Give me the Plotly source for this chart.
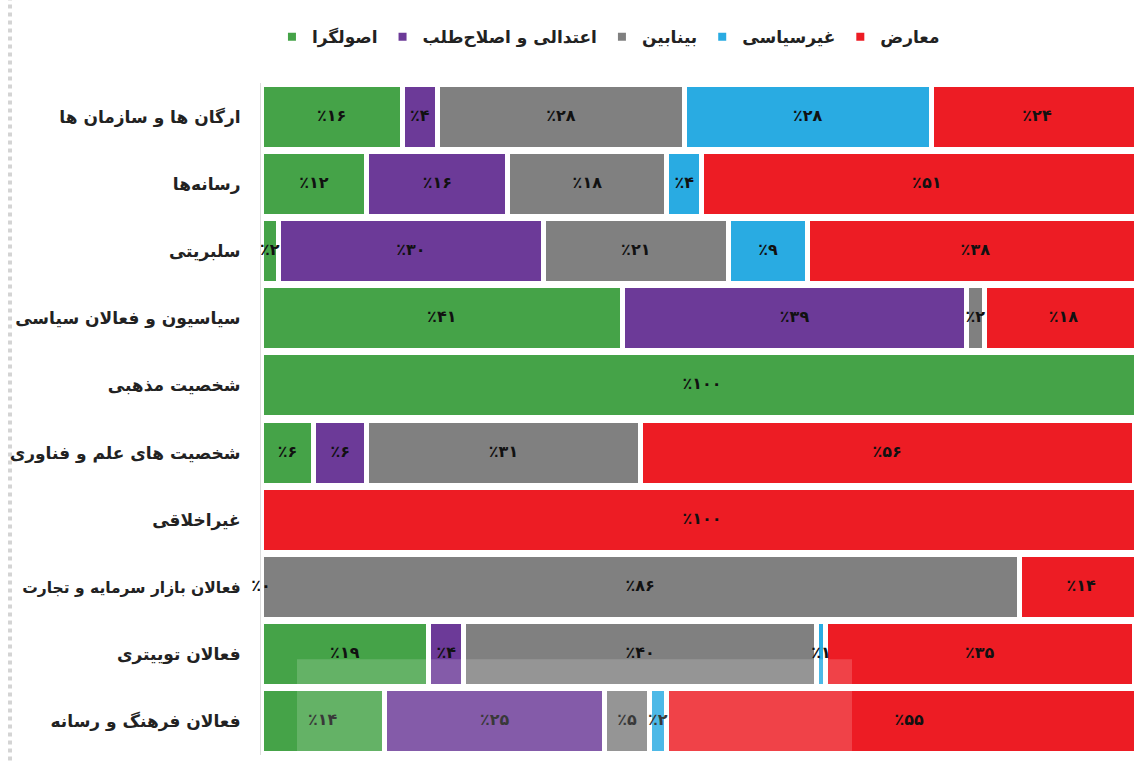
import plotly.graph_objects as go

categories = [
    "ارگان ها و سازمان ها",
    "رسانه‌ها",
    "سلبریتی",
    "سیاسیون و فعالان سیاسی",
    "شخصیت مذهبی",
    "شخصیت های علم و فناوری",
    "غیراخلاقی",
    "فعالان بازار سرمایه و تجارت",
    "فعالان توییتری",
    "فعالان فرهنگ و رسانه",
]

series_names = ["اصولگرا", "اعتدالی و اصلاح‌طلب", "بینابین", "غیرسیاسی", "معارض"]
osoolgara = [16, 12, 2, 41, 100, 6, None, 0, 19, 14]
eslahtalab = [4, 16, 30, 39, None, 6, None, None, 4, 25]
beinabein = [28, 18, 21, 2, None, 31, None, 86, 40, 5]
gheirsiasi = [28, 4, 9, None, None, None, None, None, 1, 2]
moarez = [24, 51, 38, 18, None, 56, 100, 14, 35, 55]

colors = ["#45A348", "#6C3A98", "#808080", "#29ABE2", "#ED1C24"]

series = [osoolgara, eslahtalab, beinabein, gheirsiasi, moarez]

FA = str.maketrans("0123456789", "۰۱۲۳۴۵۶۷۸۹")
def fa_label(v):
    return "٪" + str(v).translate(FA)

FONT = "DejaVu Sans"

# the longest category label is set slightly smaller so it fits like the original
tick_text = [
    ('<span style="font-size:15.5px">%s</span>' % c) if len(c) > 24 else c
    for c in categories
]

fig = go.Figure()

# bars
for name, vals, col in zip(series_names, series, colors):
    fig.add_trace(go.Bar(
        y=categories, x=[v if v is not None else 0 for v in vals],
        orientation="h", name=name, showlegend=False,
        marker=dict(color=col, line=dict(color="white", width=5)),
        hoverinfo="skip",
    ))

# labels at segment centres
lx, ly, lt = [], [], []
cum = [0] * len(categories)
for vals in series:
    for i, v in enumerate(vals):
        if v is None:
            continue
        lx.append(cum[i] + v / 2)
        ly.append(categories[i])
        lt.append(fa_label(v))
        cum[i] += v
fig.add_trace(go.Scatter(
    x=lx, y=ly, text=lt, mode="text", showlegend=False,
    textfont=dict(family=FONT, size=16, color="#111111", weight="bold"),
    cliponaxis=False, hoverinfo="skip",
))

# legend entries
for name, col in zip(series_names, colors):
    fig.add_trace(go.Scatter(
        x=[None], y=[None], mode="markers", name=name,
        marker=dict(symbol="square", size=8, color=col),
    ))

fig.update_layout(
    width=1134, height=762,
    margin=dict(l=261, r=0, t=83, b=7),
    paper_bgcolor="white", plot_bgcolor="white",
    barmode="stack", bargap=0.03,
    showlegend=True,
    legend=dict(orientation="h", x=0.398, xanchor="center", y=1.068, yanchor="middle",
                font=dict(family=FONT, size=17, color="#222222", weight="bold"),
                itemwidth=30, traceorder="normal"),
    xaxis=dict(range=[0, 99.0], visible=False, fixedrange=True),
    yaxis=dict(autorange="reversed", showgrid=False, zeroline=False,
               showline=True, linecolor="#dddddd", linewidth=1,
               tickmode="array", tickvals=categories, ticktext=tick_text,
               ticks="", ticklabelstandoff=16, fixedrange=True,
               tickfont=dict(family=FONT, size=17, color="#222222", weight="bold")),
    shapes=[
        dict(type="line", xref="paper", yref="paper", x0=-0.2875, x1=-0.2875,
             y0=-0.02, y1=1.13, line=dict(color="#d4d4d4", width=4, dash="dot")),
        dict(type="rect", xref="paper", yref="paper", x0=0.0412, x1=0.677,
             y0=-0.02, y1=0.1425, fillcolor="white", opacity=0.17,
             line=dict(width=0), layer="above"),
    ],
)

fig.write_html(
    "out.html",
    config={"displayModeBar": False},
    post_script="document.body.style.margin='0';document.body.style.overflow='hidden';",
)
